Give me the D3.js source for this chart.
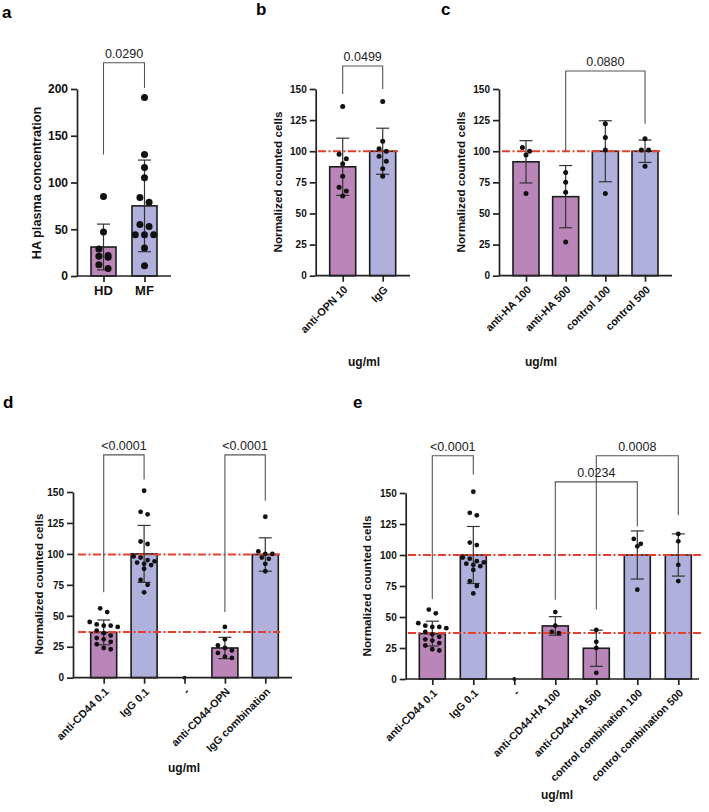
<!DOCTYPE html>
<html>
<head>
<meta charset="utf-8">
<script src="https://cdn.jsdelivr.net/npm/d3@7"></script>
<style>
  body { margin: 0; background: #fff; }
  svg { display: block; font-family: "Liberation Sans", Arial, sans-serif; }
</style>
</head>
<body>
<svg id="chart" width="709" height="812"></svg>
<script>
// ---- panel a : HA plasma concentration ----
const aCats = ["HD", "MF"];
const aGroups = ["treated", "control"];
const aMeans = [31, 75];
const aSds = [24.5, 49];
const aPoints = [
  [85, 47, 29, 22, 21, 20, 12, 8],
  [191, 130, 116, 105, 84, 79, 55, 53, 44, 44, 44, 30, 11]
];
const aTicks = [0, 50, 100, 150, 200];
// [from, to, p-value, top, left leg end, right leg end]
const aBrackets = [["HD", "MF", "0.0290", 228, 130, 201]];

// ---- panel b : anti-OPN ----
const bCats = ["anti-OPN 10", "IgG"];
const bGroups = ["treated", "control"];
const bMeans = [87.5, 100];
const bSds = [23, 18.5];
const bPoints = [
  [136, 97.5, 94, 90, 80, 71, 68, 64],
  [140, 108, 102, 100, 96, 92, 86, 80]
];
const bBrackets = [["anti-OPN 10", "IgG", "0.0499", 168.5, 146, 150]];
const bRef = [100];

// ---- panel c : anti-HA ----
const cCats = ["anti-HA 100", "anti-HA 500", "control 100", "control 500"];
const cGroups = ["treated", "treated", "control", "control"];
const cMeans = [91.5, 63.5, 100, 100];
const cSds = [17, 25, 24.5, 9];
const cPoints = [
  [103, 100, 97, 66],
  [83, 75, 67, 27],
  [122, 111, 101, 66],
  [110, 101, 101, 88]
];
const cBrackets = [["anti-HA 500", "control 500", "0.0880", 164.5, 100, 122]];
const cRef = [100];

// ---- panel d : anti-CD44 / OPN ----
const dCats = ["anti-CD44 0.1", "IgG 0.1", "-", "anti-CD44-OPN", "IgG combination"];
const dGroups = ["treated", "control", "none", "treated", "control"];
const dMeans = [36.6, 100, 0, 24, 99.5];
const dSds = [10, 23, 0, 8.6, 13.5];
const cd44Points = [56, 53, 45, 43, 42, 42, 41, 38, 36, 34, 32, 31, 29, 27, 24, 23];
const igg01Points = [151, 134, 132, 110, 108, 98, 97, 95, 94, 93, 92, 91, 88, 79, 75, 69];
const dPoints = [
  cd44Points,
  igg01Points,
  [0],
  [41, 31, 26, 24, 22, 20, 17, 16],
  [130, 102, 100, 100, 97, 96, 92, 86]
];
const dBrackets = [
  ["anti-CD44 0.1", "IgG 0.1", "<0.0001", 180, 69, 160],
  ["anti-CD44-OPN", "IgG combination", "<0.0001", 180, 53, 143]
];
const dRef = [99.5, 37];

// ---- panel e : anti-CD44 / HA ----
const eCats = ["anti-CD44 0.1", "IgG 0.1", "-", "anti-CD44-HA 100", "anti-CD44-HA 500",
  "control combination 100", "control combination 500"];
const eGroups = ["treated", "control", "none", "treated", "treated", "control", "control"];
const eMeans = [36.6, 100, 0, 42.8, 24.8, 100, 100];
const eSds = [10, 23, 0, 7.5, 14.6, 19.4, 17];
const ePoints = [
  cd44Points,
  igg01Points,
  [0],
  [54, 43, 38, 37],
  [39.5, 30, 25, 5],
  [113, 109, 107, 72],
  [117, 111, 92, 79]
];
const eBrackets = [
  ["anti-CD44 0.1", "IgG 0.1", "<0.0001", 180, 64.5, 165],
  ["anti-CD44-HA 500", "control combination 500", "0.0008", 180, 56, 132],
  ["anti-CD44-HA 100", "control combination 100", "0.0234", 159, 64, 123]
];
const eRef = [100, 37];

const cellTicks = [0, 25, 50, 75, 100, 125, 150];

const fill = d3.scaleOrdinal()
  .domain(["treated", "control", "none"])
  .range(["#ba85b9", "#afb0db", "none"]);

const svg = d3.select("#chart");
svg.append("rect").attr("width", 709).attr("height", 812).attr("fill", "#fff");

// Prism-like scatter: dots that overlap vertically share a row and spread out symmetrically
function swarm(values, y, r) {
  const pts = values.map(v => ({ v, py: y(v) })).sort((p, q) => q.v - p.v);
  const rows = [];
  pts.forEach(p => {
    const row = rows[rows.length - 1];
    if (row && Math.abs(p.py - row[0].py) < 2 * r + 0.4) row.push(p);
    else rows.push([p]);
  });
  const s = 2 * r + 2.2;
  rows.forEach(row => row.forEach((p, j) => { p.dx = (j - (row.length - 1) / 2) * s; }));
  return pts;
}

function drawPanel(o) {
  const g = svg.append("g");
  const y = d3.scaleLinear().domain([0, o.max]).range([o.y0, o.yTop]);
  const x = d3.scalePoint().domain(o.cats).range([o.c0, o.c1]);
  const bw = o.bw || 26;

  // panel letter
  g.append("text").attr("x", o.letter[1]).attr("y", o.letter[2])
    .attr("font-size", 17).attr("font-weight", "bold").text(o.letter[0]);

  // bars
  o.cats.forEach((c, i) => {
    if (o.means[i] <= 0) return;
    g.append("rect")
      .attr("x", x(c) - bw / 2).attr("y", y(o.means[i]))
      .attr("width", bw).attr("height", o.y0 - y(o.means[i]))
      .attr("fill", fill(o.groups[i]))
      .attr("stroke", "#1c1c1c").attr("stroke-width", 1.6);
  });

  // reference lines
  (o.ref || []).forEach(v => {
    g.append("line")
      .attr("x1", o.refX[0]).attr("x2", o.refX[1])
      .attr("y1", y(v)).attr("y2", y(v))
      .attr("stroke", "#e5402c").attr("stroke-width", 2)
      .attr("stroke-dasharray", "8,2.5,2,2.5");
  });

  // error bars (mean ± SD)
  o.cats.forEach((c, i) => {
    if (!o.sds[i]) return;
    const cx = x(c), hi = y(o.means[i] + o.sds[i]), lo = y(o.means[i] - o.sds[i]);
    g.append("line").attr("x1", cx).attr("x2", cx).attr("y1", hi).attr("y2", lo)
      .attr("stroke", "#333").attr("stroke-width", 1.2);
    [hi, lo].forEach(v => g.append("line")
      .attr("x1", cx - 6.5).attr("x2", cx + 6.5).attr("y1", v).attr("y2", v)
      .attr("stroke", "#333").attr("stroke-width", 1.2));
  });

  // dots
  o.cats.forEach((c, i) => {
    const rr = o.means[i] <= 0 ? o.r * 0.8 : o.r;
    swarm(o.points[i], y, rr).forEach(p => {
      g.append("circle").attr("cx", x(c) + p.dx).attr("cy", p.py)
        .attr("r", rr).attr("fill", "#111");
    });
  });

  // y axis
  const ya = g.append("g").attr("transform", `translate(${o.ax},0)`)
    .call(d3.axisLeft(y).tickValues(o.ticks).tickSize(6).tickSizeOuter(0).tickPadding(3));
  ya.select(".domain").attr("stroke", "#222").attr("stroke-width", 1.7);
  ya.selectAll(".tick line").attr("stroke", "#222").attr("stroke-width", 1.7);
  ya.selectAll(".tick text").attr("fill", "#111").attr("font-size", o.tickFont)
    .attr("font-weight", "bold").attr("font-family", "Liberation Sans, Arial, sans-serif");

  // x axis
  g.append("line").attr("x1", o.ax).attr("x2", o.xEnd).attr("y1", o.y0).attr("y2", o.y0)
    .attr("stroke", "#222").attr("stroke-width", 1.7);
  const xa = g.append("g").attr("transform", `translate(0,${o.y0})`)
    .call(d3.axisBottom(x).tickSize(6).tickSizeOuter(0));
  xa.select(".domain").remove();
  xa.selectAll(".tick line").attr("stroke", "#222").attr("stroke-width", 1.7);
  xa.selectAll(".tick text").remove();

  o.cats.forEach(c => {
    const t = g.append("text").attr("font-size", o.xFont).attr("font-weight", "bold")
      .attr("fill", "#111").text(c);
    if (o.rotate) {
      t.attr("text-anchor", "end").attr("dy", "0.35em")
        .attr("transform", `translate(${x(c) + 3},${o.y0 + 12}) rotate(-45)`);
    } else {
      t.attr("text-anchor", "middle").attr("x", x(c)).attr("y", o.y0 + 19);
    }
  });

  // axis titles
  g.append("text").attr("text-anchor", "middle").attr("font-weight", "bold")
    .attr("font-size", o.titleFont).attr("fill", "#111")
    .attr("transform", `translate(${o.title[1]},${o.title[2]}) rotate(-90)`)
    .attr("dy", "0.35em").text(o.title[0]);
  if (o.unit) {
    g.append("text").attr("text-anchor", "middle").attr("font-weight", "bold")
      .attr("font-size", 12).attr("fill", "#111")
      .attr("x", o.unit[0]).attr("y", o.unit[1]).attr("dy", "0.35em").text("ug/ml");
  }

  // significance brackets
  o.brackets.forEach(([a, b, p, top, l, r]) => {
    const x1 = x(a), x2 = x(b), yt = y(top);
    g.append("path")
      .attr("d", `M${x1},${y(l)}V${yt}H${x2}V${y(r)}`)
      .attr("fill", "none").attr("stroke", "#555").attr("stroke-width", 1.1);
    g.append("text").attr("x", (x1 + x2) / 2).attr("y", yt - 5)
      .attr("text-anchor", "middle").attr("font-size", 12.5).attr("fill", "#222").text(p);
  });
}

drawPanel({
  cats: aCats, groups: aGroups, means: aMeans, sds: aSds, points: aPoints,
  brackets: aBrackets, ticks: aTicks, max: 200,
  ax: 77, y0: 276, yTop: 89, c0: 103.5, c1: 144.5, xEnd: 171, r: 3.5, bw: 25,
  tickFont: 12, xFont: 13, rotate: false, titleFont: 12.7,
  title: ["HA plasma concentration", 37, 183], letter: ["a", 2, 18]
});

drawPanel({
  cats: bCats, groups: bGroups, means: bMeans, sds: bSds, points: bPoints,
  brackets: bBrackets, ticks: cellTicks, max: 150, ref: bRef, refX: [318, 398],
  ax: 315.7, y0: 275.7, yTop: 89, c0: 342.7, c1: 382.7, xEnd: 410, r: 2.5,
  tickFont: 10, xFont: 10.8, rotate: true, titleFont: 11.7,
  title: ["Normalized counted cells", 277.7, 182], letter: ["b", 256, 15], unit: [364, 362]
});

drawPanel({
  cats: cCats, groups: cGroups, means: cMeans, sds: cSds, points: cPoints,
  brackets: cBrackets, ticks: cellTicks, max: 150, ref: cRef, refX: [502, 662],
  ax: 499, y0: 275.7, yTop: 89, c0: 526, c1: 645, xEnd: 672, r: 2.5,
  tickFont: 10, xFont: 10.8, rotate: true, titleFont: 11.7,
  title: ["Normalized counted cells", 460.7, 182], letter: ["c", 441, 15], unit: [541, 362]
});

drawPanel({
  cats: dCats, groups: dGroups, means: dMeans, sds: dSds, points: dPoints,
  brackets: dBrackets, ticks: cellTicks, max: 150, ref: dRef, refX: [78, 280],
  ax: 73, y0: 677.7, yTop: 492, c0: 103.7, c1: 265.3, xEnd: 292, r: 2.4,
  tickFont: 10, xFont: 10.8, rotate: true, titleFont: 11.7,
  title: ["Normalized counted cells", 39.3, 584], letter: ["d", 3, 408], unit: [184, 768]
});

drawPanel({
  cats: eCats, groups: eGroups, means: eMeans, sds: eSds, points: ePoints,
  brackets: eBrackets, ticks: cellTicks, max: 150, ref: eRef, refX: [408, 702],
  ax: 405.7, y0: 679, yTop: 493, c0: 432.3, c1: 678.3, xEnd: 699, r: 2.4,
  tickFont: 10, xFont: 10.8, rotate: true, titleFont: 11.7,
  title: ["Normalized counted cells", 366.7, 586], letter: ["e", 353, 408], unit: [557, 795]
});
</script>
</body>
</html>
